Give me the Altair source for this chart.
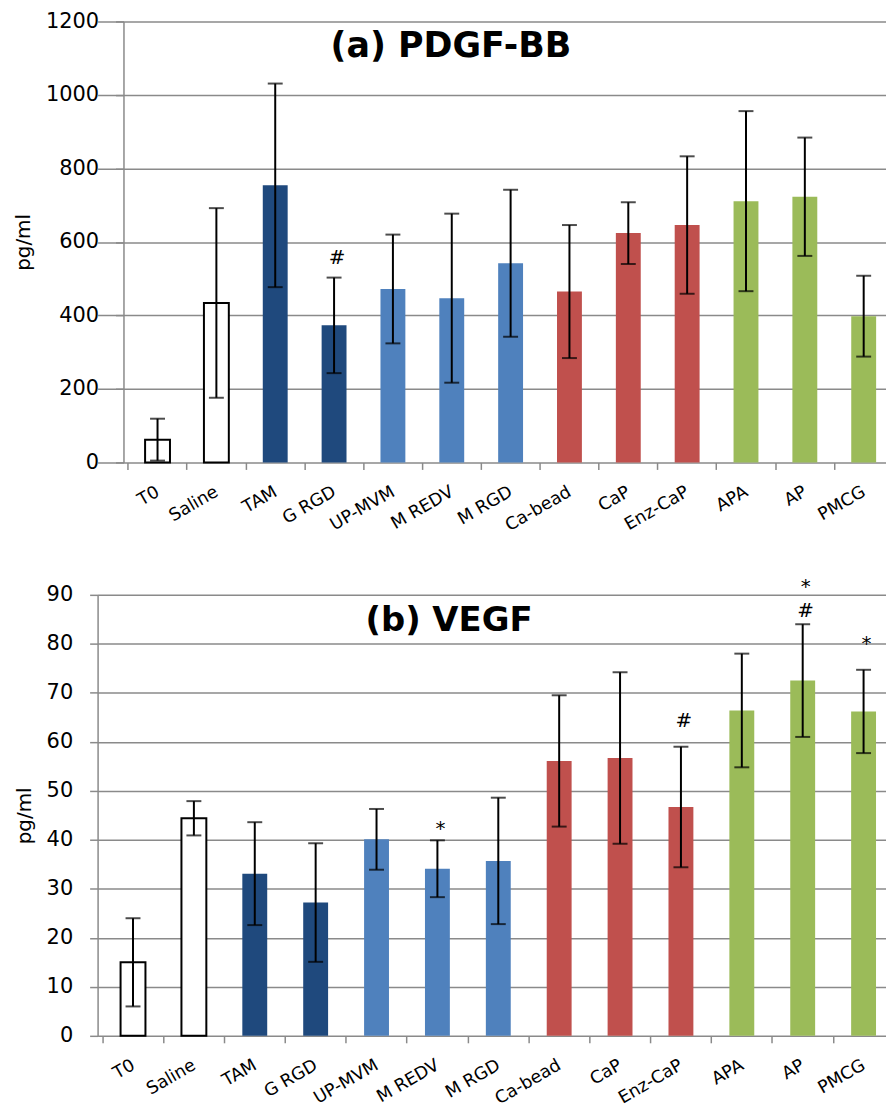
import altair as alt
import pandas as pd

categories = ["T0", "Saline", "TAM", "G RGD", "UP-MVM", "M REDV", "M RGD",
              "Ca-bead", "CaP", "Enz-CaP", "APA", "AP", "PMCG"]
groups = ["control", "control", "gel", "gel", "micro", "micro", "micro",
          "calcium", "calcium", "calcium", "alginate", "alginate", "alginate"]

pdgf_mean = [62, 434, 754, 373, 472, 447, 542, 465, 624, 646, 711, 723, 398]
pdgf_err = [57, 258, 277, 130, 148, 230, 200, 181, 84, 187, 245, 161, 110]

vegf_mean = [15.0, 44.4, 33.1, 27.2, 40.1, 34.1, 35.7, 56.1, 56.7, 46.7, 66.4, 72.5, 66.2]
vegf_err = [9.0, 3.5, 10.5, 12.1, 6.2, 5.8, 12.9, 13.4, 17.5, 12.3, 11.6, 11.5, 8.5]

pdgf_ann_cat = ["G RGD"]
pdgf_ann_text = ["#"]
pdgf_ann_level = [560]

vegf_ann_cat = ["M REDV", "Enz-CaP", "AP", "AP", "PMCG"]
vegf_ann_text = ["*", "#", "#", "*", "*"]
vegf_ann_level = [43.2, 64.4, 86.9, 92.6, 81.0]

titles = ["(a) PDGF-BB", "(b) VEGF"]

group_domain = ["control", "gel", "micro", "calcium", "alginate"]
group_colors = ["#FFFFFF", "#1F497D", "#4F81BD", "#C0504D", "#9BBB59"]

FONT = "DejaVu Sans"
GRID = "#8A8A8A"
PLOT_W = 792
PLOT_H = 443

label_expr = "[" + ",".join("'%s'" % c for c in categories) + "][datum.value]"


def panel(mean, err, ann_cat, ann_text, ann_level, ymax, ystep, title,
          title_size, title_x, x_lo, step, yaxis_offset):
    idx = list(range(len(categories)))
    df = pd.DataFrame({"idx": idx, "cat": categories, "group": groups,
                       "mean": mean, "err": err})
    ann = pd.DataFrame({"idx": [categories.index(c) for c in ann_cat],
                        "txt": ann_text, "level": ann_level})
    base = alt.Chart(df).transform_calculate(
        lo="datum.mean - datum.err", hi="datum.mean + datum.err"
    )
    x_hi = x_lo + PLOT_W / step
    x = alt.X(
        "idx:Q",
        scale=alt.Scale(domain=[x_lo, x_hi], nice=False, zero=False),
        axis=alt.Axis(
            title=None, values=idx, labelExpr=label_expr,
            labelAngle=-30, labelAlign="right", labelBaseline="middle",
            labelPadding=21, tickOffset=-step / 2, labelOffset=step / 2,
            tickSize=7, labelOverlap=False, labelFlush=False,
            labelFontSize=17.5, labelLimit=300, grid=False, domain=False,
        ),
    )
    y = alt.Y(
        "mean:Q",
        scale=alt.Scale(domain=[0, ymax], nice=False, zero=True),
        axis=alt.Axis(
            values=list(range(0, ymax + 1, ystep)), format="d", title="pg/ml",
            tickSize=8, labelPadding=17, titlePadding=12, labelFontSize=21,
            labelFlush=False, grid=True, offset=yaxis_offset,
        ),
    )
    xs = alt.X("idx:Q")
    bars_col = base.transform_filter("datum.group != 'control'").mark_bar(size=25).encode(
        x=x, y=y,
        fill=alt.Fill("group:N", scale=alt.Scale(domain=group_domain, range=group_colors),
                      legend=None),
    )
    bars_white = base.transform_filter("datum.group == 'control'").mark_bar(
        size=25, fill="white", stroke="black", strokeWidth=2
    ).encode(x=xs, y="mean:Q")
    rules = base.mark_rule(color="black", strokeWidth=2).encode(x=xs, y="lo:Q", y2="hi:Q")
    cap_hi = base.mark_tick(color="black", size=15, thickness=2, orient="horizontal").encode(
        x=xs, y="hi:Q")
    cap_lo = base.mark_tick(color="black", size=15, thickness=2, orient="horizontal").encode(
        x=xs, y="lo:Q")
    ann_base = alt.Chart(ann)
    hash_txt = ann_base.transform_filter("datum.txt == '#'").mark_text(
        font=FONT, fontSize=20, color="black", baseline="middle", dx=3, dy=1
    ).encode(x=xs, y="level:Q", text="txt:N")
    star_txt = ann_base.transform_filter("datum.txt == '*'").mark_text(
        font=FONT, fontSize=20, color="black", baseline="middle", dx=3, dy=5
    ).encode(x=xs, y="level:Q", text="txt:N")
    head = alt.Chart(pd.DataFrame({"t": [title]})).mark_text(
        font=FONT, fontSize=title_size, fontWeight="bold", color="black",
        align="center", baseline="alphabetic",
    ).encode(text="t:N", x=alt.value(title_x), y=alt.value(36))
    return alt.layer(bars_col, bars_white, rules, cap_hi, cap_lo, hash_txt, star_txt, head).properties(
        width=PLOT_W, height=PLOT_H,
    )


top = panel(pdgf_mean, pdgf_err, pdgf_ann_cat, pdgf_ann_text, pdgf_ann_level,
            1200, 200, titles[0], 35, 355, -0.934, 59.87, -26)
bottom = panel(vegf_mean, vegf_err, vegf_ann_cat, vegf_ann_text, vegf_ann_level,
               90, 10, titles[1], 34, 353, -0.5, 61.94, 0)

chart = alt.vconcat(top, bottom, spacing=43).properties(
    padding={"left": 5, "top": 0, "right": 0, "bottom": 0}
).configure_view(stroke=None).configure_axis(
    labelFont=FONT, titleFont=FONT, labelColor="black", titleColor="black",
    titleFontSize=20, titleFontWeight="normal",
    domainColor=GRID, domainWidth=1.5, tickColor=GRID, tickWidth=1.5,
    gridColor=GRID, gridWidth=1.5,
)

chart.save("out.html", embed_options={"renderer": "svg", "actions": False})
